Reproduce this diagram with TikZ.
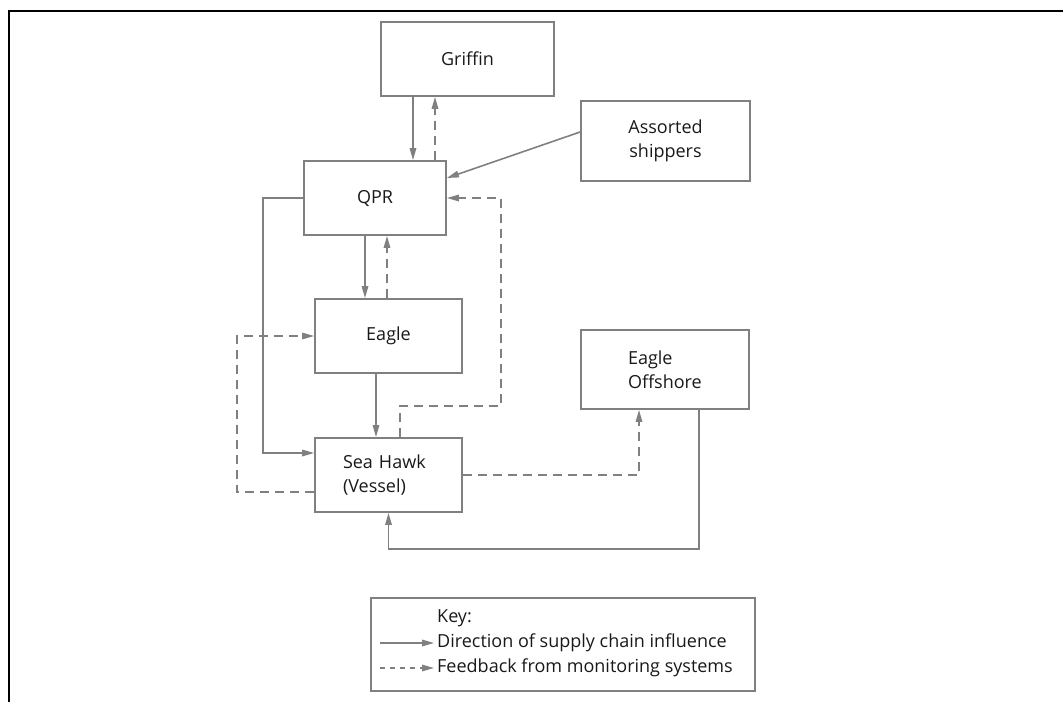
\documentclass[tikz,border=0pt]{standalone}
\usepackage{fontspec}
\setmainfont{Open Sans}
\usepackage{xcolor}
\usepackage{tikz}
\usetikzlibrary{positioning, arrows.meta, calc}
\definecolor{linegray}{RGB}{128,128,128}

\begin{document}
\begin{tikzpicture}[
    x=1pt, y=-1pt,
    every node/.style={align=center, font=\fontsize{18}{24}\selectfont, text=black!90},
    box/.style={rectangle, draw=linegray, line width=1.8pt, minimum height=74pt},
    flow/.style={draw=linegray, line width=1.6pt, -{Triangle[length=12pt, width=6.5pt]}},
    feedback/.style={flow, dash pattern=on 9pt off 6pt}
]
    \useasboundingbox (0,0) rectangle (1063,702);
    \draw[line width=2pt] (9,702) -- (9,11) -- (1063,11);

    \node[box, minimum width=173pt] (griffin) at (467.5,59) {Griffin};
    \node[box, minimum width=169pt, minimum height=80pt] (shippers) at (665.5,141) {Assorted\\shippers};
    \node[box, minimum width=142pt] (qpr) at (375,198) {QPR};
    \node[box, minimum width=147pt] (eagle) at (388.5,336) {Eagle};
    \node[box, minimum width=168pt, minimum height=79pt, align=left, text width=74pt, inner xsep=47pt] (offshore) at (665,369.5) {Eagle\\Offshore};
    \node[box, minimum width=147pt, align=left, text width=91pt, inner xsep=28pt] (seahawk) at (388.5,475) {Sea Hawk\\(Vessel)};

    \draw[flow] ([xshift=-54.5pt]griffin.south) -- ([xshift=-54.5pt]griffin.south |- qpr.north);
    \draw[feedback] ([xshift=60pt]qpr.north) -- ([xshift=60pt]qpr.north |- griffin.south);
    \draw[flow] ([yshift=9pt]shippers.west) -- ([yshift=20pt]qpr.east);
    \draw[flow] (qpr.west) -- ++(-40,0) |- ([yshift=22pt]seahawk.west);
    \draw[flow] ([xshift=-10pt]qpr.south) -- ([xshift=-10pt]qpr.south |- eagle.north);
    \draw[feedback] ([xshift=-1.5pt]eagle.north) -- ([xshift=-1.5pt]eagle.north |- qpr.south);
    \draw[flow] ([xshift=-12.5pt]eagle.south) -- ([xshift=-12.5pt]eagle.south |- seahawk.north);
    \draw[feedback] ([xshift=11.5pt]seahawk.north) -- ++(0,-31) -- ++(101,0) |- (qpr.east);
    \draw[feedback] ([yshift=-17pt]seahawk.west) -- ++(-77,0) |- (eagle.west);
    \draw[feedback] (seahawk.east) -| ([xshift=-26pt]offshore.south);
    \draw[flow] ([xshift=34pt]offshore.south) -- ++(0,139) -| (seahawk.south);

    \node[box, minimum width=384pt, minimum height=93pt] (key) at (563,644.5) {};
    \node[anchor=west, inner xsep=0pt] (keytitle) at (437,618) {Key:};
    \node[anchor=west, inner xsep=0pt] (keyflow) at (437,643) {Direction of supply chain influence};
    \node[anchor=west, inner xsep=0pt] (keyfeed) at (437,668) {Feedback from monitoring systems};
    \draw[flow] ([xshift=-57pt]keyflow.west) -- ([xshift=-3pt]keyflow.west);
    \draw[feedback, dash pattern=on 5pt off 5pt] ([xshift=-57pt]keyfeed.west) -- ([xshift=-3pt]keyfeed.west);
\end{tikzpicture}
\end{document}
